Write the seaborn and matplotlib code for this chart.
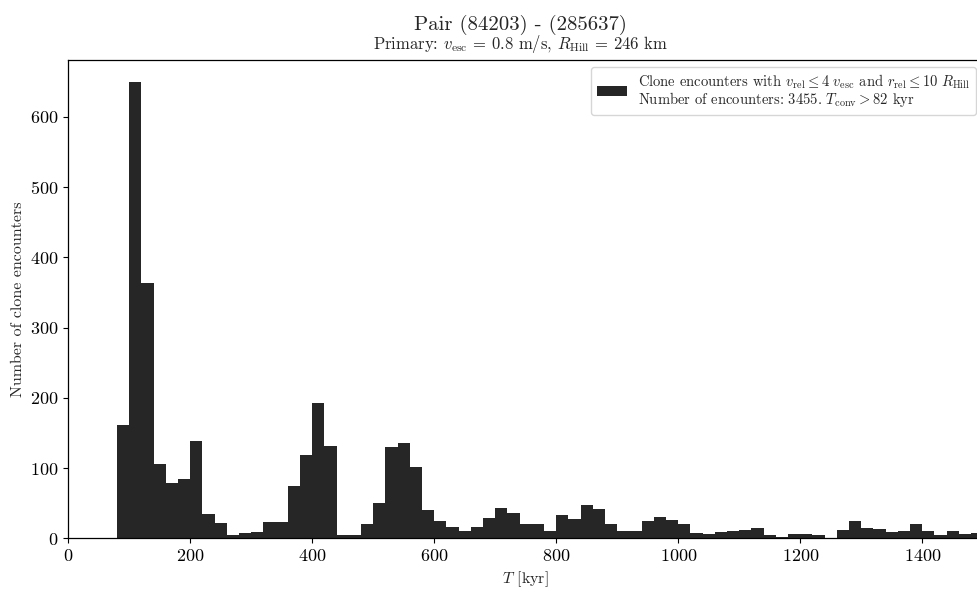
import numpy as np
import pandas as pd
import matplotlib
matplotlib.use('Agg')
import matplotlib.pyplot as plt
import seaborn as sns

# counts per 20 kyr bin (first bin starts at 80 kyr)
bin_width = 20
first_bin = 80
counts = [161, 649, 363, 106, 79, 84, 138, 34, 22, 5,
          8, 9, 23, 23, 74, 118, 192, 131, 5, 5,
          21, 50, 130, 135, 101, 40, 25, 16, 10, 16,
          29, 43, 36, 20, 20, 10, 33, 28, 47, 42,
          20, 11, 11, 25, 30, 26, 20, 8, 6, 9,
          11, 12, 15, 5, 2, 6, 6, 5, 1, 12,
          25, 15, 13, 9, 11, 20, 11, 5, 11, 6, 8]

x_ticks = [0, 200, 400, 600, 800, 1000, 1200, 1400]
y_ticks = [0, 100, 200, 300, 400, 500, 600]

title = 'Pair (84203) - (285637)'
subtitle = r'Primary: $v_{\mathrm{esc}}$ = 0.8 m/s, $R_{\mathrm{Hill}}$ = 246 km'
label = (r'Clone encounters with $v_{\mathrm{rel}} \leq 4\ v_{\mathrm{esc}}$ and '
         r'$r_{\mathrm{rel}} \leq 10\ R_{\mathrm{Hill}}$' + '\n'
         + r'Number of encounters: 3455. $T_{\mathrm{conv}} > 82$ kyr')

edges = [first_bin + bin_width * i for i in range(len(counts) + 1)]
df = pd.DataFrame({'T': [e + bin_width / 2 for e in edges[:-1]], 'n': counts})

sns.set_style('ticks')
plt.rcParams['font.family'] = 'serif'
plt.rcParams['font.serif'] = ['cmr10']
plt.rcParams['mathtext.fontset'] = 'cm'
plt.rcParams['axes.formatter.use_mathtext'] = True
plt.rcParams['axes.edgecolor'] = 'black'
plt.rcParams['xtick.color'] = 'black'
plt.rcParams['ytick.color'] = 'black'

fig = plt.figure(figsize=(9.78, 5.91), dpi=100)
ax = fig.add_axes([0.0698, 0.0892, 0.9356, 0.8101])

sns.histplot(data=df, x='T', weights='n', bins=edges, color='#262626',
             alpha=1, linewidth=0, ax=ax, label=label)

ax.set_xlim(0, 1500)
ax.set_ylim(0, max(counts) * 1.05)
ax.set_xticks(x_ticks)
ax.set_yticks(y_ticks)
ax.tick_params(labelsize=13, length=3.5, width=0.8)
for s in ax.spines.values():
    s.set_visible(True)
    s.set_linewidth(0.9)

ax.set_xlabel(r'$T$ [kyr]', fontsize=11.5, labelpad=4)
ax.set_ylabel('Number of clone encounters', fontsize=11.5, labelpad=4)

ax.annotate(subtitle, (0.5, 1.0), xycoords='axes fraction', xytext=(-4, 3),
            textcoords='offset points', ha='center', va='bottom', fontsize=12)
ax.annotate(title, (0.5, 1.0), xycoords='axes fraction', xytext=(-4, 17.5),
            textcoords='offset points', ha='center', va='bottom', fontsize=15)

leg = ax.legend(loc='upper right', fontsize=10.5, handlelength=2.05,
                handleheight=0.73, handletextpad=0.75)
for t in leg.get_texts():
    t.set_linespacing(0.9)

fig.savefig('out.png', dpi=100)
